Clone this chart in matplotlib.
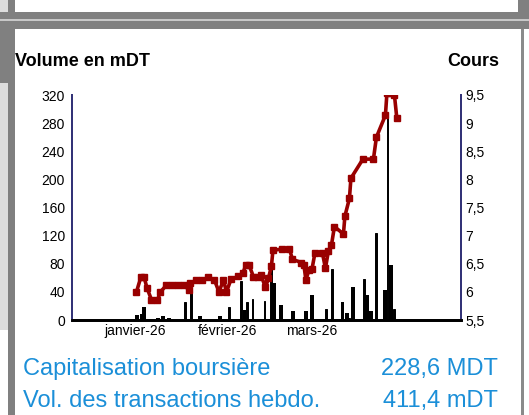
import matplotlib
matplotlib.use('Agg')
import matplotlib.pyplot as plt
from matplotlib.patches import Rectangle

plt.rcParams['font.family'] = ['Liberation Sans', 'DejaVu Sans']

# days counted from 1 Jan 2026 (0 = 1 Jan)
price_days = [16, 17.5, 18.5, 19.5, 21, 23, 24, 26, 28, 30, 32, 33.5, 34, 36, 38, 40,
              42, 43.5, 45, 46, 47.5, 50, 51.5, 52.5, 53.5, 55, 56.5, 57.5, 59, 60,
              61, 61.5, 64.5, 67, 68, 71, 71.8, 72.5, 73.5, 74.5, 75.5, 78, 79, 80,
              81, 82, 85, 85.5, 87, 87.5, 91.5, 95, 96, 99, 99.5, 100.5, 102, 102.8]
price = [6.00, 6.27, 6.27, 6.07, 5.86, 5.86, 6.00, 6.12, 6.12, 6.12, 6.12, 6.03, 6.15, 6.21,
         6.21, 6.26, 6.21, 6.00, 6.21, 6.00, 6.22, 6.28, 6.34, 6.48, 6.48, 6.27, 6.27, 6.30,
         6.08, 6.24, 6.46, 6.74, 6.76, 6.76, 6.58, 6.52, 6.48, 6.21, 6.39, 6.40, 6.69, 6.69,
         6.42, 6.73, 6.83, 7.16, 7.03, 7.35, 7.66, 8.02, 8.36, 8.36, 8.75, 9.14, 9.53, 9.53,
         9.50, 9.09]

# thin volume spikes
spike_days = [19.8, 32.2, 34.2, 45.2, 46.8, 50.8, 52.8, 54.7, 58.7, 60.8, 79.2, 81.2,
              86.8, 91.8, 95.8, 99.7, 101.8]
spike_vol = [2, 25, 44, 2, 19, 55, 25, 30, 27, 73, 16, 72, 3, 58, 124, 288, 16]
# wider volume blocks
block_days = [16.3, 17.7, 18.5, 23.2, 24.8, 26.8, 31.2, 33.2, 37.2, 43.8, 52, 62, 64.3,
              68.2, 72.5, 74.5, 84.7, 86.2, 88.2, 92.8, 94.2, 98.8, 100.8]
block_vol = [7, 9, 18, 3, 5, 3, 2, 2, 6, 6, 14, 53, 21, 13, 13, 36, 25, 10, 47, 36, 13, 42, 78]

month_pos = [15.5, 46.5, 74.5]
month_labels = ['janvier-26', 'février-26', 'mars-26']
vol_ticks = [0, 40, 80, 120, 160, 200, 240, 280, 320]
price_ticks = [5.5, 6, 6.5, 7, 7.5, 8, 8.5, 9, 9.5]

W, H = 529, 415
fig = plt.figure(figsize=(W / 100, H / 100), dpi=100)
fig.patch.set_facecolor('white')


def box(x0, y0, x1, y1, color):
    fig.patches.append(Rectangle((x0 / W, 1 - y1 / H), (x1 - x0) / W, (y1 - y0) / H,
                                 transform=fig.transFigure, color=color, lw=0, zorder=0))


# page frame around the widget
box(0, 0, 8, 12, '#dddddd')
box(8, 0, 15, 415, '#808080')
box(518, 0, 529, 13, '#808080')
box(0, 12, 529, 29, '#808080')
box(0, 19, 529, 21, '#c8c8c8')
box(0, 29, 8, 83, '#808080')
box(0, 83, 8, 330, '#dddddd')
box(521, 29, 524, 415, '#8a8a8a')

ax = fig.add_axes([72 / W, 1 - 320 / H, (461 - 72) / W, 225 / H])
ax2 = ax.twinx()

ax.bar(block_days, block_vol, width=1.3, color='black', zorder=2)
ax.bar(spike_days, spike_vol, width=0.5, color='black', edgecolor='black',
       linewidth=0.7, zorder=2)
ax2.plot(price_days, price, color='#990000', lw=2.6, marker='s', markersize=3.8)

ax.set_xlim(-5.5, 124.2)
ax.set_ylim(0, 320)
ax2.set_ylim(5.5, 9.5)

ax.set_yticks(vol_ticks)
ax.set_yticklabels([str(v) for v in vol_ticks])
ax2.set_yticks(price_ticks)
ax2.set_yticklabels([f'{p:g}'.replace('.', ',') for p in price_ticks])
ax.set_xticks(month_pos)
ax.set_xticklabels(month_labels)

ax.tick_params(axis='y', length=0, pad=5, labelsize=10)
ax.tick_params(axis='x', length=0, pad=3, labelsize=10)
ax2.tick_params(axis='y', length=0, pad=3, labelsize=10)

for a in (ax, ax2):
    a.spines['top'].set_visible(False)
    a.spines['left'].set_color('#333377')
    a.spines['right'].set_color('#333377')
    a.spines['left'].set_linewidth(1.4)
    a.spines['right'].set_linewidth(1.4)
    a.spines['bottom'].set_color('black')
    a.spines['bottom'].set_linewidth(2)

fig.text(15 / W, 1 - 66.5 / H, 'Volume en mDT', fontsize=13, fontweight='bold',
         ha='left', va='baseline')
fig.text(499 / W, 1 - 66.5 / H, 'Cours', fontsize=13, fontweight='bold',
         ha='right', va='baseline')

blue = '#1b8fd8'
fig.text(23 / W, 1 - 375 / H, 'Capitalisation boursière', fontsize=17, color=blue,
         ha='left', va='baseline')
fig.text(498 / W, 1 - 375 / H, '228,6 MDT', fontsize=17, color=blue,
         ha='right', va='baseline')
fig.text(23 / W, 1 - 407 / H, 'Vol. des transactions hebdo.', fontsize=17, color=blue,
         ha='left', va='baseline')
fig.text(498 / W, 1 - 407 / H, '411,4 mDT', fontsize=17, color=blue,
         ha='right', va='baseline')

fig.savefig('out.png', dpi=100)
